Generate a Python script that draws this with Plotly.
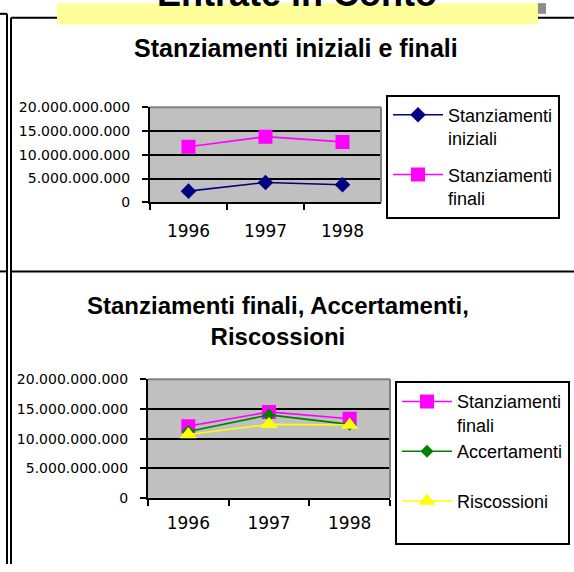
import plotly.graph_objects as go

# ---------------- data ----------------
years = ["1996", "1997", "1998"]

# chart 1: Stanziamenti iniziali e finali
stanz_iniziali = [2.36e9, 4.18e9, 3.70e9]
stanz_finali_1 = [11.7e9, 13.8e9, 12.7e9]

# chart 2: Stanziamenti finali, Accertamenti, Riscossioni
stanz_finali_2 = [12.1e9, 14.5e9, 13.35e9]
accertamenti = [11.2e9, 14.0e9, 12.4e9]
riscossioni = [10.7e9, 12.4e9, 12.3e9]

y_tick_vals = [0, 5e9, 10e9, 15e9, 20e9]
y_tick_text = ["0", "5.000.000.000", "10.000.000.000", "15.000.000.000", "20.000.000.000"]

main_title = "Entrate in Conto"
title_1 = "Stanziamenti iniziali e finali"
title_2 = "Stanziamenti finali, Accertamenti,<br>Riscossioni"

# ---------------- layout helpers ----------------
W, H = 574, 572


def px(x):
    return x / W


def py(y):
    return 1 - y / H


NAVY = "#000080"
MAGENTA = "#FF00FF"
GREEN = "#008000"
YELLOW = "#FFFF00"
PLOTBG = "#C0C0C0"
SANS = "Liberation Sans, Arial, sans-serif"
TICKF = "DejaVu Sans, sans-serif"
LW = 1.6

fig = go.Figure()

# chart 1 traces
fig.add_trace(go.Scatter(
    x=years, y=stanz_iniziali, name="Stanziamenti<br>iniziali", mode="lines+markers",
    line=dict(color=NAVY, width=LW), marker=dict(symbol="diamond", size=12, color=NAVY),
    xaxis="x", yaxis="y", legend="legend", legendgroup="a"))
fig.add_trace(go.Scatter(
    x=years, y=stanz_finali_1, name="Stanziamenti<br>finali", mode="lines+markers",
    line=dict(color=MAGENTA, width=LW), marker=dict(symbol="square", size=14, color=MAGENTA),
    xaxis="x", yaxis="y", legend="legend", legendgroup="b"))

# chart 2 traces
fig.add_trace(go.Scatter(
    x=years, y=stanz_finali_2, name="Stanziamenti<br>finali", mode="lines+markers",
    line=dict(color=MAGENTA, width=LW), marker=dict(symbol="square", size=14, color=MAGENTA),
    xaxis="x2", yaxis="y2", legend="legend2", legendgroup="c"))
fig.add_trace(go.Scatter(
    x=years, y=accertamenti, name="Accertamenti<br> ", mode="lines+markers",
    line=dict(color=GREEN, width=LW), marker=dict(symbol="diamond", size=10, color=GREEN),
    xaxis="x2", yaxis="y2", legend="legend2", legendgroup="d"))
fig.add_trace(go.Scatter(
    x=years, y=riscossioni, name="Riscossioni<br> ", mode="lines+markers",
    line=dict(color=YELLOW, width=LW), marker=dict(symbol="triangle-up", size=15, color=YELLOW),
    xaxis="x2", yaxis="y2", legend="legend2", legendgroup="e"))


def xaxis_cfg(domain, anchor, standoff):
    return dict(
        domain=domain, anchor=anchor, type="category", range=[-0.5, 2.5],
        tickson="boundaries", ticks="outside", ticklen=6, tickwidth=2, tickcolor="black",
        showline=True, linecolor="black", linewidth=2, showgrid=False, zeroline=False,
        tickfont=dict(family=TICKF, size=17, color="black"), ticklabelstandoff=standoff,
        fixedrange=True)


def yaxis_cfg(domain, anchor, standoff):
    return dict(
        domain=domain, anchor=anchor, range=[0, 20e9],
        tickvals=y_tick_vals, ticktext=y_tick_text,
        ticks="outside", ticklen=6, tickwidth=2, tickcolor="black",
        showline=True, linecolor="black", linewidth=2,
        showgrid=True, gridcolor="black", gridwidth=2, zeroline=False,
        tickfont=dict(family=TICKF, size=14, color="black"), ticklabelstandoff=standoff,
        fixedrange=True)


shapes = []
# gray top/right borders of the two plot areas
for xr, yr in (("x", "y"), ("x2", "y2")):
    shapes.append(dict(type="line", xref=f"{xr} domain", yref=f"{yr} domain",
                       x0=0, x1=1, y0=1, y1=1, line=dict(color="#808080", width=2), layer="above"))
    shapes.append(dict(type="line", xref=f"{xr} domain", yref=f"{yr} domain",
                       x0=1, x1=1, y0=0, y1=1, line=dict(color="#808080", width=2), layer="above"))

frame = dict(color="black", width=2)
# outer double-line frame (table borders)
shapes += [
    dict(type="line", xref="paper", yref="paper", x0=px(7), x1=px(7), y0=py(6), y1=py(572), line=frame),
    dict(type="line", xref="paper", yref="paper", x0=px(0), x1=px(7), y0=py(6), y1=py(6), line=frame),
    dict(type="line", xref="paper", yref="paper", x0=px(0), x1=px(7), y0=py(271), y1=py(271), line=frame),
    dict(type="line", xref="paper", yref="paper", x0=px(11), x1=px(11), y0=py(10), y1=py(572), line=frame),
    dict(type="line", xref="paper", yref="paper", x0=px(11), x1=px(574), y0=py(10), y1=py(10), line=frame),
    dict(type="line", xref="paper", yref="paper", x0=px(11), x1=px(574), y0=py(271), y1=py(271), line=frame),
    # yellow heading box and gray shadow square
    dict(type="rect", xref="paper", yref="paper", x0=px(57), x1=px(538), y0=py(17), y1=py(-5),
         fillcolor="#FFFF99", line=dict(width=0), layer="above"),
    dict(type="rect", xref="paper", yref="paper", x0=px(538), x1=px(546), y0=py(6), y1=py(-5),
         fillcolor="#8C8C8C", line=dict(width=0), layer="above"),
]

annotations = [
    dict(text=f"<b>{main_title}</b>", xref="paper", yref="paper", x=px(297), y=py(8),
         xanchor="center", yanchor="bottom", showarrow=False,
         font=dict(family=SANS, size=36, color="black")),
    dict(text=f"<b>{title_1}</b>", xref="paper", yref="paper", x=px(296), y=py(41),
         xanchor="center", yanchor="middle", showarrow=False,
         font=dict(family=SANS, size=25, color="black")),
    dict(text=f"<b>{title_2}</b>", xref="paper", yref="paper", x=px(278), y=py(322),
         xanchor="center", yanchor="middle", showarrow=False,
         font=dict(family=SANS, size=24, color="black")),
]

legend_common = dict(
    xanchor="left", yanchor="top", bgcolor="white", bordercolor="black", borderwidth=2,
    font=dict(family=SANS, size=18, color="black"), valign="top", itemwidth=50,
    itemsizing="trace", itemclick=False, itemdoubleclick=False)

fig.update_layout(
    width=W, height=H, margin=dict(l=0, r=0, t=0, b=0, pad=0),
    paper_bgcolor="white", plot_bgcolor=PLOTBG, hovermode=False,
    xaxis=xaxis_cfg([px(150), px(381)], "y", 12),
    yaxis=yaxis_cfg([py(200), py(102)], "x", 9),
    xaxis2=xaxis_cfg([px(148), px(390)], "y2", 9),
    yaxis2=yaxis_cfg([py(504), py(382)], "x2", 9),
    legend=dict(x=px(386), y=py(89), tracegroupgap=10, **legend_common),
    legend2=dict(x=px(395), y=py(384), tracegroupgap=0, **legend_common),
    shapes=shapes, annotations=annotations,
)

fig.write_html(
    "out.html",
    config={"displayModeBar": False},
    post_script="document.body.style.margin='0';document.body.style.overflow='hidden';",
)
